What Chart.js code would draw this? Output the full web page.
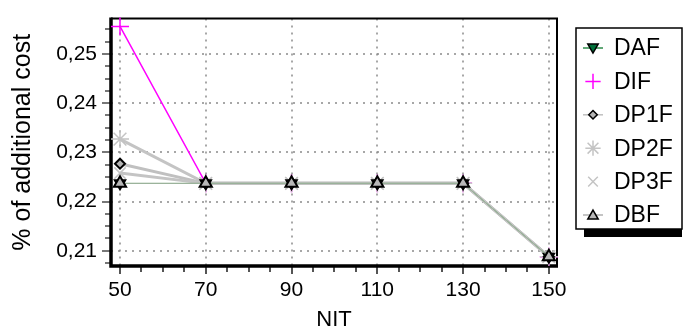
<!DOCTYPE html>
<html lang="en">
<head>
<meta charset="UTF-8">
<title>% of additional cost vs NIT</title>
<script src="https://cdn.jsdelivr.net/npm/chart.js"></script>
<style>
  html, body { margin: 0; padding: 0; background: #fff; }
  #chart { display: block; }
</style>
</head>
<body>
<canvas id="chart" width="683" height="333"></canvas>
<script>
// data
const nit = [50, 70, 90, 110, 130, 150];
const daf  = [0.2237, 0.2237, 0.2237, 0.2237, 0.2237, 0.2088];
const dif  = [0.2556, 0.2237, 0.2237, 0.2237, 0.2237, 0.2088];
const dp1f = [0.2277, 0.2237, 0.2237, 0.2237, 0.2237, 0.2088];
const dp2f = [0.2327, 0.2237, 0.2237, 0.2237, 0.2237, 0.2088];
const dp3f = [0.2258, 0.2237, 0.2237, 0.2237, 0.2237, 0.2088];
const dbf  = [0.2237, 0.2237, 0.2237, 0.2237, 0.2237, 0.2088];

const xTicks = [50, 70, 90, 110, 130, 150];
const yTicks = [0.21, 0.22, 0.23, 0.24, 0.25];

const FONT = 'Arial, "Liberation Sans", sans-serif';

function pts(vals) {
    return vals.map((v, i) => ({ x: nit[i], y: v }));
}

const series = [
    { label: 'DAF',  data: daf,  color: '#6f9c6f', width: 1,   style: 'triangle', rot: 180, r: 6, fill: '#00703a', edge: '#000', order: 1, legendLine: '#2e8b4a' },
    { label: 'DIF',  data: dif,  color: '#ff00ff', width: 1.5, style: 'cross',    rot: 0,   r: 9, fill: '#ff00ff', edge: '#ff00ff', order: 6, legendLine: null },
    { label: 'DP1F', data: dp1f, color: '#c0c0c0', width: 3,   style: 'rectRot',  rot: 0,   r: 5, fill: '#b4b4b4', edge: '#000', order: 4, legendLine: '#c0c0c0' },
    { label: 'DP2F', data: dp2f, color: '#c4c4c4', width: 3,   style: 'star',     rot: 0,   r: 9, fill: '#c4c4c4', edge: '#c4c4c4', order: 5, legendLine: null },
    { label: 'DP3F', data: dp3f, color: '#c4c4c4', width: 3,   style: 'crossRot', rot: 0,   r: 8, fill: '#c4c4c4', edge: '#c4c4c4', order: 3, legendLine: null },
    { label: 'DBF',  data: dbf,  color: '#9fb59f', width: 1,   style: 'triangle', rot: 0,   r: 7, fill: '#b8b8b8', edge: '#000', order: 0, legendLine: '#b0b0b0' }
];

// frame, dotted grid and tick marks
const framePlugin = {
    id: 'frame',
    beforeDatasetsDraw(chart) {
        const { ctx, chartArea: a, scales } = chart;
        const x = scales.x, y = scales.y;
        ctx.save();
        // dotted grid at major ticks
        ctx.strokeStyle = '#8a8a8a';
        ctx.lineWidth = 1.5;
        ctx.setLineDash([2, 5]);
        xTicks.forEach(v => {
            const px = Math.round(x.getPixelForValue(v));
            ctx.beginPath(); ctx.moveTo(px, a.top); ctx.lineTo(px, a.bottom); ctx.stroke();
        });
        yTicks.forEach(v => {
            const py = Math.round(y.getPixelForValue(v));
            ctx.beginPath(); ctx.moveTo(a.left, py); ctx.lineTo(a.right, py); ctx.stroke();
        });
        ctx.setLineDash([]);
        // tick marks
        ctx.strokeStyle = '#555';
        ctx.lineWidth = 2;
        for (let v = 50; v <= 150; v += 5) {
            const px = Math.round(x.getPixelForValue(v));
            const len = xTicks.includes(v) ? 8 : 6;
            ctx.beginPath(); ctx.moveTo(px, a.bottom); ctx.lineTo(px, a.bottom + len); ctx.stroke();
        }
        ctx.strokeStyle = '#777';
        for (let k = 0; k <= 20; k++) {
            const v = 0.2075 + k * 0.0025;
            if (v > y.max) break;
            const py = Math.round(y.getPixelForValue(v));
            const major = yTicks.some(t => Math.abs(t - v) < 1e-6);
            ctx.beginPath(); ctx.moveTo(a.left, py); ctx.lineTo(a.left - (major ? 9 : 6), py); ctx.stroke();
        }
        // axis frame
        ctx.strokeStyle = '#000';
        ctx.lineWidth = 2;
        ctx.beginPath();
        ctx.moveTo(a.left, a.top); ctx.lineTo(a.right, a.top); ctx.lineTo(a.right, a.bottom);
        ctx.stroke();
        ctx.lineWidth = 3.5;
        ctx.beginPath();
        ctx.moveTo(a.left, a.top - 1); ctx.lineTo(a.left, a.bottom); ctx.lineTo(a.right + 1, a.bottom);
        ctx.stroke();
        ctx.restore();
    }
};

// boxed legend with shadow
const legendPlugin = {
    id: 'boxLegend',
    afterDraw(chart) {
        const ctx = chart.ctx;
        const bx = 576, by = 28, bw = 106, bh = 201;
        ctx.save();
        ctx.fillStyle = '#000';
        ctx.fillRect(bx + 8, by + bh, bw - 8, 8);
        ctx.fillStyle = '#fff';
        ctx.fillRect(bx, by, bw, bh);
        ctx.strokeStyle = '#000';
        ctx.lineWidth = 1.5;
        ctx.strokeRect(bx, by, bw, bh);
        series.forEach((s, i) => {
            const cy = 48 + i * 33.4;
            if (s.legendLine) {
                ctx.strokeStyle = s.legendLine;
                ctx.lineWidth = 1.5;
                ctx.beginPath(); ctx.moveTo(583, cy); ctx.lineTo(603, cy); ctx.stroke();
            }
            ctx.fillStyle = s.fill;
            ctx.strokeStyle = s.edge;
            Chart.helpers.drawPoint(ctx, {
                pointStyle: s.style,
                rotation: s.rot,
                radius: s.style === 'triangle' ? 6 : s.r * 0.85,
                borderWidth: 1.5
            }, 593, cy + (s.style === 'triangle' ? (s.rot ? -1 : 1) : 0));
            ctx.fillStyle = '#000';
            ctx.font = '23px ' + FONT;
            ctx.textBaseline = 'middle';
            ctx.textAlign = 'left';
            ctx.fillText(s.label, 614, cy + 1);
        });
        ctx.restore();
    }
};

new Chart(document.getElementById('chart'), {
    type: 'line',
    data: {
        datasets: series.map(s => ({
            label: s.label,
            data: pts(s.data),
            borderColor: s.color,
            borderWidth: s.width,
            pointStyle: s.style,
            rotation: s.rot,
            pointRadius: s.r,
            pointBackgroundColor: s.fill,
            pointBorderColor: s.edge,
            pointBorderWidth: s.edge === '#000' ? 2 : 1.5,
            order: s.order,
            tension: 0,
            clip: false
        }))
    },
    options: {
        responsive: false,
        animation: false,
        devicePixelRatio: 1,
        layout: { padding: { top: 7, right: 126, left: 0, bottom: 0 } },
        plugins: {
            legend: { display: false },
            tooltip: { enabled: false }
        },
        scales: {
            x: {
                type: 'linear',
                min: 47.9,
                max: 151.9,
                afterBuildTicks: sc => { sc.ticks = xTicks.map(v => ({ value: v })); },
                afterFit: sc => { sc.height = 67; },
                grid: { display: false, drawTicks: true, tickLength: 8 },
                border: { display: false },
                ticks: {
                    color: '#000',
                    font: { family: FONT, size: 21 },
                    padding: 4,
                    maxRotation: 0,
                    callback: v => String(v)
                },
                title: {
                    display: true,
                    text: 'NIT',
                    color: '#000',
                    font: { family: FONT, size: 22 },
                    padding: { top: 0, bottom: 0 }
                }
            },
            y: {
                type: 'linear',
                min: 0.2069,
                max: 0.2572,
                afterBuildTicks: sc => { sc.ticks = yTicks.map(v => ({ value: v })); },
                afterFit: sc => { sc.width = 111; },
                grid: { display: false, drawTicks: true, tickLength: 8 },
                border: { display: false },
                ticks: {
                    color: '#000',
                    font: { family: FONT, size: 21 },
                    padding: 6,
                    callback: v => v.toFixed(2).replace('.', ',')
                },
                title: {
                    display: true,
                    text: '% of additional cost',
                    color: '#000',
                    font: { family: FONT, size: 25 },
                    padding: { top: 8, bottom: 0 }
                }
            }
        }
    },
    plugins: [framePlugin, legendPlugin]
});
</script>
</body>
</html>
